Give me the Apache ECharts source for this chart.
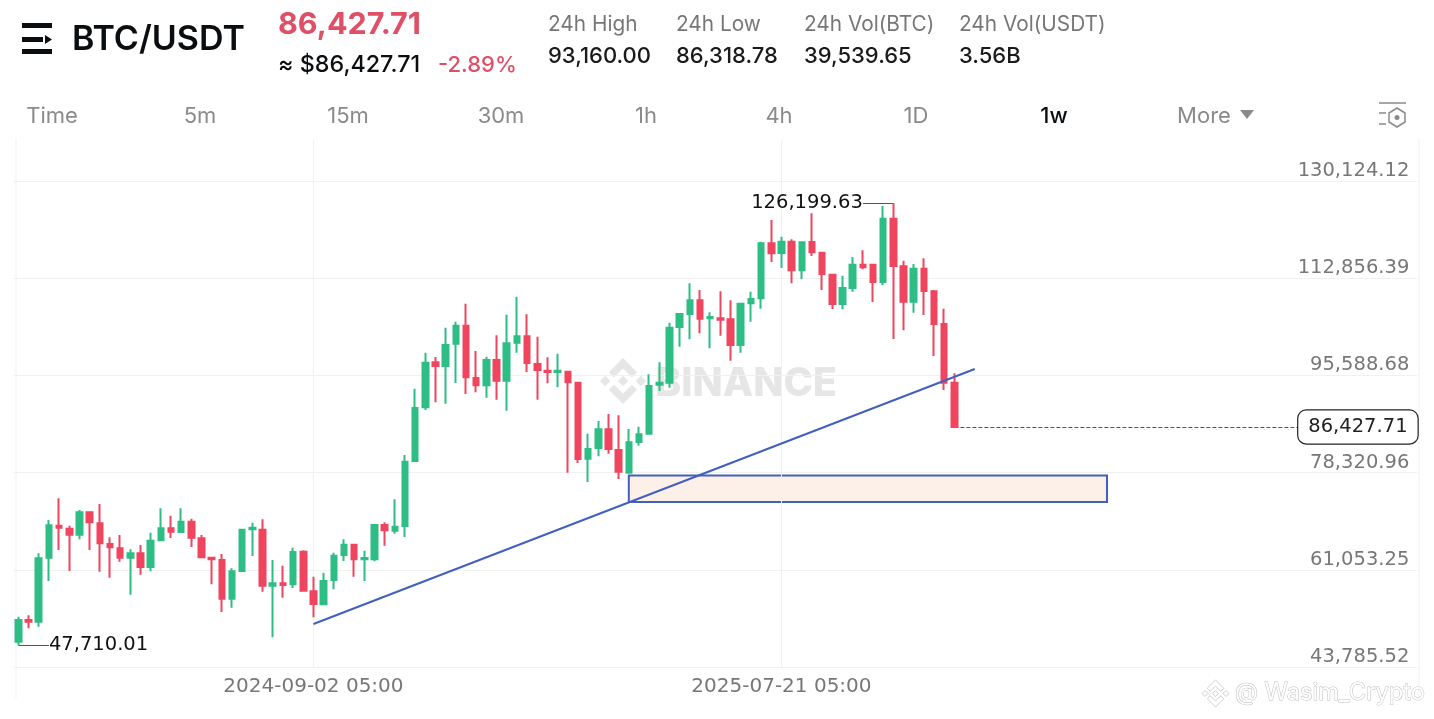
<!DOCTYPE html>
<html><head><meta charset="utf-8">
<style>html,body{margin:0;padding:0;background:#fff}#c{width:1434px;height:719px}</style>
<script src="https://cdn.jsdelivr.net/npm/echarts@6/dist/echarts.min.js"></script>
</head><body><div id="c"></div>
<script>
const opens=[48285,52134,51838,63208,68893,68360,67294,71262,69308,65636,
64866,63208,63978,61550,66288,68419,67768,69604,66643,63208,
62794,55924,60839,68242,68183,58234,58648,58471,64274,57227,
54916,59239,63680,65516,62910,62910,69010,68003,68832,80380,
89915,97909,97258,101226,104423,95126,93823,98324,94652,101403,
102528,97613,96429,96192,96251,94297,80795,82690,86006,82334,
78306,83755,85235,93941,94296,104186,106495,108923,105725,105725,
105548,100988,108390,109278,119050,117332,119346,114253,119287,117392,
113483,108272,111114,115260,115260,112180,123432,114964,108686,114549,
110522,104719,94296];
const closes=[52134,51838,63090,68952,68538,67294,71262,69485,65755,65044,
63208,63978,61550,66228,68419,67827,69604,66761,63267,62912,
55924,60780,68183,68538,58234,58648,58352,64215,57345,54977,
59061,63562,65516,62910,63147,69010,68062,68714,80262,89796,
97850,97258,100989,104423,95244,93823,98324,94652,101285,102528,
97791,96547,96192,96429,94356,80735,82512,86006,82512,78485,
83695,85117,93704,94296,104067,106495,108923,105666,105962,105488,
100988,108331,109160,119050,117273,119346,114253,119227,117451,113602,
108272,111114,115260,114786,112180,123432,115023,108686,114549,110581,
104719,94296,86427.71];
const lows=[47710.01,50653,50950,59063,64570,60839,66465,64570,60721,59655,
62497,56635,60188,60780,66110,66702,67650,65103,63208,58471,
53555,54325,60780,63504,57168,49055,56102,57819,57286,52608,
54738,57580,62614,59831,59061,62555,65338,67470,66878,80262,
89441,90803,90566,94238,92283,92579,91632,91277,89322,99627,
96192,91277,94178,93468,78307,80025,76649,81209,81683,77182,
78188,83103,85235,92815,93408,100692,101994,103060,100395,102646,
98204,99626,105133,107443,115733,114668,111943,112654,116799,110759,
107383,107324,110463,114431,108627,111588,102054,103593,106732,106317,
99033,92993,86318.78];
const highs=[52726,52963,63978,69900,73749,68893,71677,71262,72743,66821,
67235,64689,65458,67650,71973,70670,71973,70137,67235,63267,
63860,61313,68301,69426,70018,62794,61787,64985,64511,59833,
60541,64095,66463,65575,64450,69188,69484,73570,81446,93231,
99627,98857,104068,105134,108332,99923,98916,102706,106378,109576,
106437,102469,98798,99449,96429,94297,85236,87487,88730,88493,
86064,86479,95776,97908,104955,106614,111943,110759,106791,110522,
108923,108390,110463,119346,123195,120234,119760,119287,124380,117451,
113542,113305,116622,117806,115260,125682,126199.63,115970,115378,116385,
110759,107443,95954];
const yTicks=[43785.52,61053.25,78320.96,95588.68,112856.39,130124.12];
const yMax=137408;
const labelledWeeks=[29,75];
const weekCount=138;
const trendIdx=[29,94], trendPrice=[51425,96725];
const zoneIdx=[60,107], zonePrice=[73098,77805];
const lastPrice=86427.71, highPrice=126199.63, lowPrice=47710.01;
const tabs=[['Time',52],['5m',200],['15m',348],['30m',501],['1h',646],['4h',779],['1D',916],['1w',1054],['More',1204]];

const categories=[];
for(let i=0;i<weekCount;i++){
  categories.push(new Date(Date.UTC(2024,1,12)+i*7*864e5).toISOString().slice(0,10));
}
const candles=opens.map((o,i)=>[o,closes[i],lows[i],highs[i]]);
const fmt=v=>v.toLocaleString('en-US',{minimumFractionDigits:2,maximumFractionDigits:2});
const FF='Inter, "Noto Sans", sans-serif';
const NF='"DejaVu Sans", sans-serif';
const RED='#F0455F',GREEN='#2EBD85',BLUE='#4160BE',GRID='#f1f1f1';
const t=(text,x,y,size,fill,weight,align)=>({type:'text',z:20,silent:true,style:{text,x,y,fontSize:size,fontFamily:FF,fill,fontWeight:weight||400,textAlign:align||'left',textVerticalAlign:'middle'}});
const rect=(x,y,w,h,fill)=>({type:'rect',z:20,silent:true,shape:{x,y,width:w,height:h},style:{fill}});
const vline=(x,y1,y2)=>({type:'line',z:0,silent:true,shape:{x1:x,y1,x2:x,y2},style:{stroke:GRID,lineWidth:1}});
const LOGO=[[[38.73,53.2],[63.32,28.62],[87.92,53.22],[102.22,38.91],[63.32,0],[24.43,38.9]],
[[0,63.31],[14.3,49],[28.61,63.31],[14.3,77.61]],
[[38.73,73.41],[63.32,98],[87.92,73.4],[102.23,87.69],[63.33,126.6],[24.42,87.72]],
[[98,63.31],[112.3,49],[126.61,63.3],[112.3,77.62]],
[[77.83,63.3],[63.32,48.78],[48.81,63.28],[63.32,77.78]]];
const logo=(x,y,size,z,style)=>LOGO.map(p=>({type:'polygon',z,silent:true,shape:{points:p.map(([a,b])=>[x+a*size/126.61,y+b*size/126.61])},style}));
const graphic=[
  vline(16,138,698),vline(1419,138,698),
  rect(22,23,30,5,'#0b0e11'),rect(22,37,21,5,'#0b0e11'),rect(22,49,30,5,'#0b0e11'),
  {type:'polygon',z:20,silent:true,shape:{points:[[45,35],[52,39.5],[45,44]]},style:{fill:'#0b0e11'}},
  t('BTC/USDT',72,40,34,'#0b0e11',600),
  t('86,427.71',278,25,30.5,'#DF4F65',700),
  t('≈ $86,427.71',278,65,23.3,'#0b0e11',500),
  t('-2.89%',438,65,22,'#DF4F65',500),
  t('24h High',548,25,20.8,'#777'),t('93,160.00',548,56,22,'#1a1a1a',500),
  t('24h Low',676,25,20.8,'#777'),t('86,318.78',676,56,22,'#1a1a1a',500),
  t('24h Vol(BTC)',804,25,20.8,'#777'),t('39,539.65',804,56,22,'#1a1a1a',500),
  t('24h Vol(USDT)',959,25,20.8,'#777'),t('3.56B',959,56,22,'#1a1a1a',500),
  ...tabs.map(([s,x])=>s==='1w'?t(s,x,116,22,'#0b0e11',500,'center'):t(s,x,116,22,'#8a8a8a',400,'center')),
  {type:'polygon',z:20,silent:true,shape:{points:[[1240,110],[1254,110],[1247,119]]},style:{fill:'#8a8a8a'}},
  {type:'line',z:20,silent:true,shape:{x1:1379,y1:103,x2:1406,y2:103},style:{stroke:'#8a8a8a',lineWidth:1.5}},
  {type:'line',z:20,silent:true,shape:{x1:1379,y1:113,x2:1386,y2:113},style:{stroke:'#8a8a8a',lineWidth:1.5}},
  {type:'line',z:20,silent:true,shape:{x1:1379,y1:124,x2:1386,y2:124},style:{stroke:'#8a8a8a',lineWidth:1.5}},
  {type:'polygon',z:20,silent:true,shape:{points:[[1397,108],[1405,113],[1405,122],[1397,127],[1389,122],[1389,113]]},style:{fill:'none',stroke:'#8a8a8a',lineWidth:1.5}},
  {type:'circle',z:20,silent:true,shape:{cx:1397,cy:117.5,r:2.5},style:{fill:'#8a8a8a'}},
  ...logo(600,358,46,0,{fill:'#e6e6e6'}),
  {type:'text',z:0,silent:true,style:{text:'BINANCE',x:655,y:384,fontSize:39.5,fontFamily:FF,fontWeight:800,fill:'#e6e6e6',textVerticalAlign:'middle'}},
  ...logo(1202,680,27,20,{fill:'#fff',stroke:'#cfcfcf',lineWidth:1}),
  {type:'text',z:20,silent:true,style:{text:'@ Wasim_Crypto',x:1235,y:693,fontSize:23.7,fontFamily:FF,fill:'#fff',stroke:'#bdbdbd',lineWidth:1,textVerticalAlign:'middle'}}
];
const chart=echarts.init(document.getElementById('c'));
chart.setOption({
  animation:false,backgroundColor:'#fff',
  grid:{left:13.3,width:1404,top:140,height:527,containLabel:false},
  graphic,
  xAxis:{type:'category',data:categories,boundaryGap:true,
    axisLine:{show:false},axisTick:{show:false},splitLine:{show:false},
    axisLabel:{interval:(i)=>labelledWeeks.includes(i),formatter:v=>v+' 05:00',color:'#777',fontSize:20,fontFamily:NF,margin:10,hideOverlap:false}},
  yAxis:{type:'value',position:'right',min:yTicks[0],max:yMax,scale:true,
    axisLine:{show:false},
    axisTick:{show:false,customValues:yTicks},
    splitLine:{show:true,customValues:yTicks,lineStyle:{color:GRID,width:1}},
    axisLabel:{inside:true,customValues:yTicks,formatter:v=>fmt(v),color:'#777',fontSize:19.5,fontFamily:NF,margin:8,verticalAlign:'bottom',showMinLabel:true,showMaxLabel:true}},
  series:[
    {type:'candlestick',data:candles,barWidth:6,z:5,silent:true,
      itemStyle:{color:GREEN,color0:RED,borderColor:GREEN,borderColor0:RED,borderWidth:2},
      markLine:{silent:true,symbol:'none',animation:false,z:1,precision:2,
        data:labelledWeeks.map(i=>({xAxis:categories[i],label:{show:false},lineStyle:{color:GRID,width:1,type:'solid'}}))},
      markArea:{silent:true,z:1,data:[[
        {coord:[categories[zoneIdx[0]],zonePrice[1]]},
        {coord:[categories[zoneIdx[1]],zonePrice[0]]}]],
        itemStyle:{color:'#FDF0E8',borderColor:BLUE,borderWidth:2}}},
    {type:'line',data:trendIdx.map((i,k)=>[categories[i],trendPrice[k]]),showSymbol:false,silent:true,z:6,
      lineStyle:{color:BLUE,width:2}},
    {type:'line',data:[],silent:true,z:7,
      markLine:{silent:true,symbol:'none',animation:false,precision:2,
        data:[
          [{coord:[categories[92],lastPrice]},{coord:[categories[126],lastPrice],label:{show:true,position:'end',distance:-2,formatter:fmt(lastPrice),color:'#222',fontSize:19.5,fontFamily:NF,backgroundColor:'#fff',borderColor:'#222',borderWidth:1.2,borderRadius:8,padding:[9,10,4,10]},lineStyle:{color:'#555',width:1,type:'dashed'}}],
          [{coord:[categories[86],highPrice]},{coord:[categories[83],highPrice],label:{show:true,position:'end',distance:0,padding:[5,0,0,0],formatter:fmt(highPrice),color:'#111',fontSize:19.5,fontFamily:NF},lineStyle:{color:'#555',width:1,type:'solid'}}],
          [{coord:[categories[0],lowPrice]},{coord:[categories[3],lowPrice],label:{show:true,position:'end',distance:0,padding:[5,0,0,0],formatter:fmt(lowPrice),color:'#111',fontSize:19.5,fontFamily:NF},lineStyle:{color:'#555',width:1,type:'solid'}}]
        ]}}
  ]
});
</script></body></html>
